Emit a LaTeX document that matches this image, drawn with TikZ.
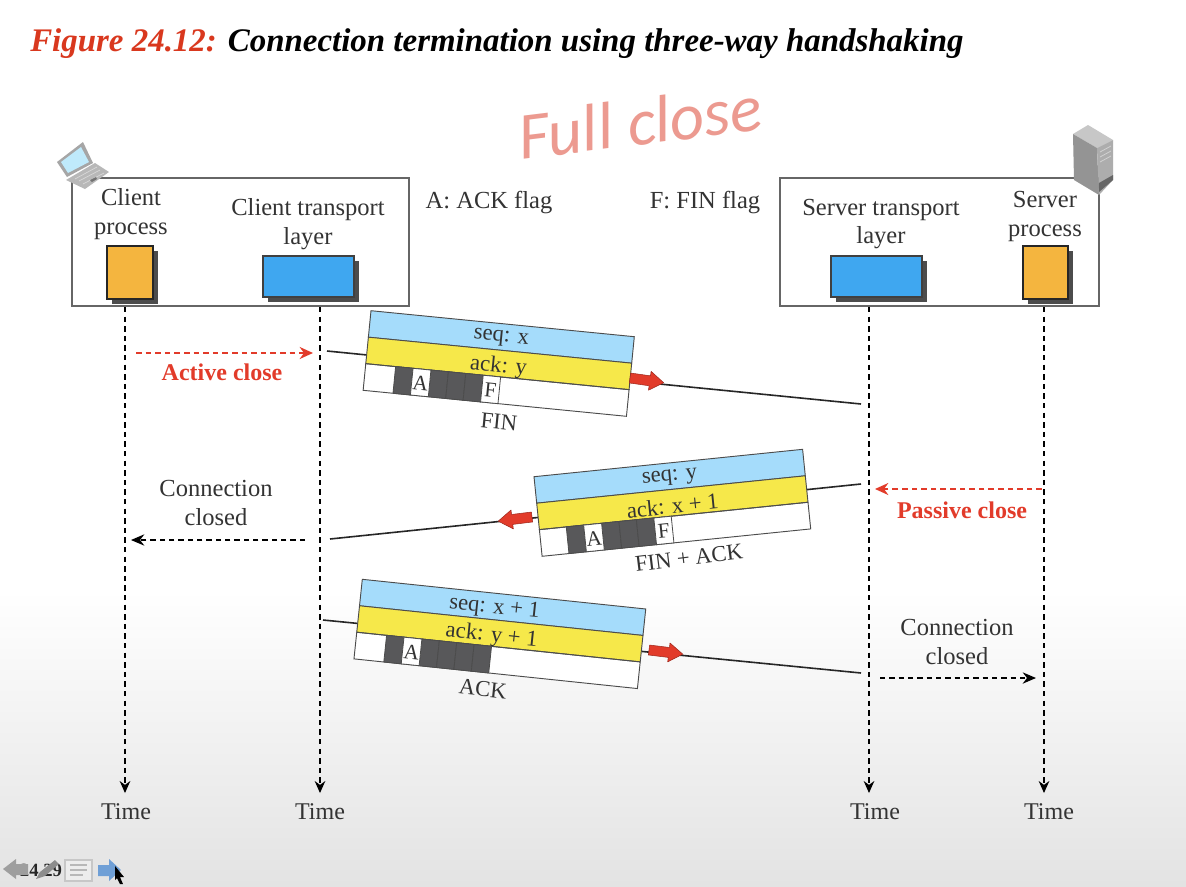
\documentclass[tikz,border=0pt]{standalone}
\usepackage{fontspec}
\setmainfont{Liberation Serif}
\newfontfamily\handfont{Carlito}
\usetikzlibrary{arrows.meta}
\definecolor{txt}{HTML}{333333}
\definecolor{figred}{HTML}{D9381E}
\definecolor{arred}{HTML}{E23B2A}
\definecolor{seqblue}{HTML}{A5DCFB}
\definecolor{ackyel}{HTML}{F6E84A}
\definecolor{procor}{HTML}{F4B53F}
\definecolor{procbl}{HTML}{3FA7F0}
\definecolor{cellgr}{HTML}{58585A}
\definecolor{pen}{HTML}{EC9A90}
\definecolor{navblue}{HTML}{6F9FD6}
\tikzset{
  lbl/.style={text=txt,font=\fontsize{18.4}{18}\selectfont,inner sep=0pt,align=center},
  timelbl/.style={text=txt,font=\fontsize{18}{18}\selectfont,inner sep=0pt},
  redlbl/.style={text=arred,font=\fontsize{18}{18}\selectfont\bfseries,inner sep=0pt},
  hostbox/.style={draw=black!60,line width=1.2pt,inner sep=0pt},
  timeline/.style={line width=0.85pt,dash pattern=on 4pt off 3.2pt,-{Stealth[length=9pt,width=8pt]}},
  redflow/.style={arred,line width=1.4pt,dash pattern=on 4.2pt off 3pt,-{Stealth[length=10pt,width=9pt]}},
  blackflow/.style={black,line width=1.1pt,dash pattern=on 4pt off 3pt,-{Stealth[length=10pt,width=8.5pt]}},
  wire/.style={black!85,line width=1.2pt},
  row/.style={draw=black!70,line width=0.7pt},
  cell/.style={draw=black!70,line width=0.6pt},
  plbl/.style={text=txt,font=\fontsize{17}{17}\selectfont,inner sep=0pt,transform shape},
  flbl/.style={text=txt,font=\fontsize{16}{16}\selectfont,inner sep=0pt,transform shape},
  redarr/.style={fill=arred,draw=arred!70!black,line width=0.4pt,line join=round},
}
% #1 x, #2 y, #3 canvas angle, #4 width, #5 seq, #6 ack, #7 cell shift, #8 F cell (1/0), #9 name; \txtdx = text shift
\newcommand{\packet}[9]{%
\begin{scope}[shift={(#1,#2)},rotate=#3]
  \fill[white] (0,0) rectangle (#4,80);
  \draw[row,fill=seqblue] (0,0) rectangle (#4,26.6);
  \draw[row,fill=ackyel] (0,26.6) rectangle (#4,53.2);
  \draw[row] (0,53.2) rectangle (#4,80);
  \begin{scope}[xshift=#7*0.75pt]
  \foreach \cx in {27,62.5,80,97.5}{\draw[cell,fill=cellgr] (\cx,53.2) rectangle ++(17.5,26.8);}
  \draw[cell,fill=white] (44.5,53.2) rectangle ++(18,26.8);
  \ifnum#8=1
    \draw[cell,fill=white] (115,53.2) rectangle ++(17.5,26.8);
    \node[flbl] (#9f) at (123.7,67.5) {F};
  \else
    \draw[cell,fill=cellgr] (115,53.2) rectangle ++(17.5,26.8);
  \fi
  \node[flbl] (#9a) at (53.5,67.5) {A};
  \end{scope}
  \node[plbl] (#9s) at ({#4/2+\txtdx},15) {#5};
  \node[plbl] (#9k) at ({#4/2+\txtdx},43) {#6};
\end{scope}}
\newcommand{\redarrow}[3]{%
\begin{scope}[shift={(#1,#2)},rotate=#3]
  \draw[redarr] (0,-5) -- (20,-5) -- (20,-9.5) -- (34,0) -- (20,9.5) -- (20,5) -- (0,5) -- cycle;
\end{scope}}
\begin{document}
\begin{tikzpicture}[x=0.75pt,y=-0.75pt]
\useasboundingbox (0,0) rectangle (1186,886);
\fill[white] (0,0) rectangle (1186,886);
\shade[top color=white,bottom color=black!11] (0,590) rectangle (1186,886);

% title
\node[anchor=west,inner sep=0pt,font=\fontsize{24.7}{25}\selectfont\bfseries\itshape] (title) at (30,44)
  {\textcolor{figred}{Figure 24.12:} Connection termination using three-way handshaking};

% handwriting
\node[text=pen,font=\handfont\itshape\fontsize{50}{50}\selectfont,inner sep=0pt,rotate=7] (hand) at (640,122) {Full close};

% host boxes
\node[hostbox,minimum width=252.75pt,minimum height=96pt] (clientbox) at (240.5,242) {};
\node[hostbox,minimum width=239.25pt,minimum height=96pt] (serverbox) at (939.5,242) {};

% laptop icon
\fill[black!28] (66,180) -- (95,163) -- (109,172) -- (85,189) -- cycle;
\fill[black!35] (57,162) -- (83,142) -- (93,163) -- (67,177) -- cycle;
\fill[cyan!25] (61,162) -- (81,147) -- (89,162) -- (68,173) -- cycle;
\draw[black!15,line width=0.5pt] (75,179) -- (97,167) (79,181) -- (100,170) (83,184) -- (104,173);
\fill[black!55] (90,180) -- (96,177) -- (97,179) -- (92,182) -- cycle;

% server icon
\fill[black!22] (1073,134) -- (1088,125) -- (1113,140) -- (1097,148) -- cycle;
\fill[black!42] (1073,134) -- (1097,148) -- (1099,195) -- (1074,180) -- cycle;
\fill[black!32] (1097,148) -- (1113,140) -- (1113,180) -- (1099,195) -- cycle;
\fill[black!60] (1099,183) -- (1113,175) -- (1113,180) -- (1099,192) -- cycle;
\draw[black!18,line width=0.6pt] (1100,152) -- (1111,146) (1100,157) -- (1111,151) (1100,162) -- (1111,156);

% process rectangles
\fill[black!70] (112,251) rectangle (158,304);
\draw[fill=procor,draw=black!85,line width=1.5pt] (107,246) rectangle (153,299);
\fill[black!70] (268,261) rectangle (359,302);
\draw[fill=procbl,draw=black!75,line width=0.9pt] (263,256) rectangle (354,297);
\fill[black!70] (836,261) rectangle (927,302);
\draw[fill=procbl,draw=black!75,line width=0.9pt] (831,256) rectangle (922,297);
\fill[black!70] (1028,251) rectangle (1073,304);
\draw[fill=procor,draw=black!85,line width=1.5pt] (1023,246) rectangle (1068,299);

% header labels
\node[lbl] (cp) at (131,214) {Client\\[3.6pt]process};
\node[lbl] (ct) at (308,224) {Client transport\\[3.4pt]layer};
\node[lbl] (st) at (881,224) {Server transport\\[3.4pt]layer};
\node[lbl] (sp) at (1045,216.5) {Server\\[3.6pt]process};
\node[lbl] (aflag) at (489,203) {A: ACK flag};
\node[lbl] (fflag) at (705,203) {F: FIN flag};

% time lines
\node[timelbl] (t1) at (126,812) {Time};
\node[timelbl] (t2) at (320,812) {Time};
\node[timelbl] (t3) at (875,812) {Time};
\node[timelbl] (t4) at (1049,812) {Time};
\coordinate (a1) at (125,307); \coordinate (b1) at (125,793);
\coordinate (a2) at (320,307); \coordinate (b2) at (320,793);
\coordinate (a3) at (869,307); \coordinate (b3) at (869,793);
\coordinate (a4) at (1044,307); \coordinate (b4) at (1044,793);
\draw[timeline] (a1) -- (b1);
\draw[timeline] (a2) -- (b2);
\draw[timeline] (a3) -- (b3);
\draw[timeline] (a4) -- (b4);

% wires
\coordinate (w1a) at (327,351); \coordinate (w1b) at (861,404);
\coordinate (w2a) at (861,484); \coordinate (w2b) at (330,539);
\coordinate (w3a) at (323,620); \coordinate (w3b) at (861,673);
\draw[wire] (w1a) -- (w1b);
\draw[wire] (w2a) -- (w2b);
\draw[wire] (w3a) -- (w3b);

% packets
\def\txtdx{0}
\packet{371}{310.7}{-5.64}{264.6}{seq: x}{ack: y}{3}{1}{pa}
\packet{534}{476.7}{5.82}{270}{seq: y}{ack: x + 1}{0}{1}{pb}
\def\txtdx{-8}
\packet{362.3}{579.3}{-5.98}{285}{seq: x + 1}{ack: y + 1}{3}{0}{pc}
\node[plbl,rotate=-5.6] (fin) at (499,422) {FIN};
\node[plbl,rotate=7] (finack) at (689,558) {FIN + ACK};
\node[plbl,rotate=-6] (ack) at (483,689) {ACK};
\redarrow{630}{378}{-8}
\redarrow{532}{517}{187}
\redarrow{649}{650}{-7}

% dashed flows
\coordinate (r1a) at (136,353); \coordinate (r1b) at (313,353);
\coordinate (r2a) at (1042,489); \coordinate (r2b) at (875,489);
\coordinate (k1a) at (305,540); \coordinate (k1b) at (131,540);
\coordinate (k2a) at (880,678); \coordinate (k2b) at (1036,678);
\draw[redflow] (r1a) -- (r1b);
\draw[redflow] (r2a) -- (r2b);
\draw[blackflow] (k1a) -- (k1b);
\draw[blackflow] (k2a) -- (k2b);
\node[redlbl] (ac) at (222,372) {Active close};
\node[redlbl] (pc) at (962,510) {Passive close};
\node[lbl] (cc1) at (216,503) {Connection\\[3.6pt]closed};
\node[lbl] (cc2) at (957,642) {Connection\\[3.6pt]closed};

% toolbar
\node[inner sep=0pt,text=black!85,font=\fontsize{14}{14}\selectfont\bfseries] (pg) at (41,870) {24.29};
\fill[black!38] (3,869) -- (16,859) -- (16,864) -- (28,864) -- (28,875) -- (16,875) -- (16,879) -- cycle;
\fill[black!45] (36,879) -- (40,872) -- (55,860) -- (59,864) -- (45,876) -- cycle;
\draw[black!22,fill=black!7,line width=0.8pt] (65,860) rectangle (92,881);
\draw[black!28,line width=1pt] (70,865) -- (87,865) (70,870) -- (87,870) (70,875) -- (83,875);
\fill[navblue] (98,865) -- (109,865) -- (109,859) -- (121,870) -- (109,881) -- (109,876) -- (98,876) -- cycle;
\fill[black] (115,866) -- (124,877) -- (120,877) -- (123,884) -- (120,884) -- (117,878) -- (115,880) -- cycle;
\end{tikzpicture}
\end{document}
